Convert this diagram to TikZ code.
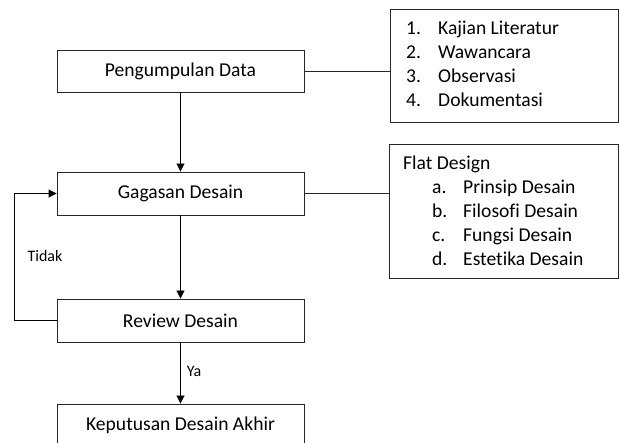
\documentclass[tikz,border=0pt]{standalone}
\usepackage{fontspec}
\setmainfont{Carlito}[Ligatures={NoCommon}]
\usetikzlibrary{arrows.meta}
\begin{document}
\begin{tikzpicture}[x=1pt,y=-1pt,
  box/.style={draw=black!85, line width=0.9pt, minimum width=247pt, inner sep=0pt,
     font=\fontsize{19.6}{24}\selectfont},
  lst/.style={anchor=base west, inner sep=0pt, font=\fontsize{19.6}{24}\selectfont},
  lbl/.style={inner sep=0pt, font=\fontsize{16}{19}\selectfont},
  arr/.style={draw=black, line width=0.9pt, -{Triangle[width=8pt,length=8pt]}},
  ln/.style={draw=black!85, line width=0.9pt}]
\useasboundingbox (0,0) rectangle (619,443);
\node[box, minimum height=42pt] (p) at (180.5,71) {Pengumpulan Data};
\node[box, minimum height=43pt] (g) at (180.5,193.5) {Gagasan Desain};
\node[box, minimum height=43pt] (r) at (180.5,320.5) {Review Desain};
\node[box, minimum height=42pt] (k) at (180.5,425) {Keputusan Desain Akhir};
\node[draw=black!85, line width=0.9pt, minimum width=228pt, minimum height=113pt, inner sep=0pt] (b1) at (504,65.5) {};
\node[draw=black!85, line width=0.9pt, minimum width=229pt, minimum height=134pt, inner sep=0pt] (b2) at (503.5,211) {};
\node[lst] (n1) at (406,35) {1.};
\node[lst] (t1) at (438,35) {Kajian Literatur};
\node[lst] (n2) at (406,59) {2.};
\node[lst] (t2) at (438,59) {Wawancara};
\node[lst] (n3) at (406,83) {3.};
\node[lst] (t3) at (438,83) {Observasi};
\node[lst] (n4) at (406,107) {4.};
\node[lst] (t4) at (438,107) {Dokumentasi};
\node[lst] (fd) at (403,170) {Flat Design};
\node[lst] (la) at (432,194) {a.};
\node[lst] (ta) at (463,194) {Prinsip Desain};
\node[lst] (lb) at (432,218) {b.};
\node[lst] (tb) at (463,218) {Filosofi Desain};
\node[lst] (lc) at (432,242) {c.};
\node[lst] (tc) at (463,242) {Fungsi Desain};
\node[lst] (ld) at (432,266) {d.};
\node[lst] (td) at (463,266) {Estetika Desain};
\draw[arr] (p) -- (g);
\draw[arr] (g) -- (r);
\draw[arr] (r) -- (k);
\draw[arr] (r.west) -- ++(-42,0) |- (g.west);
\draw[ln] (p.east) -- (p.east -| b1.west);
\draw[ln] (g.east) -- (g.east -| b2.west);
\node[lbl] (tidak) at (45,256) {Tidak};
\node[lbl] (ya) at (194,371) {Ya};
\end{tikzpicture}
\end{document}
